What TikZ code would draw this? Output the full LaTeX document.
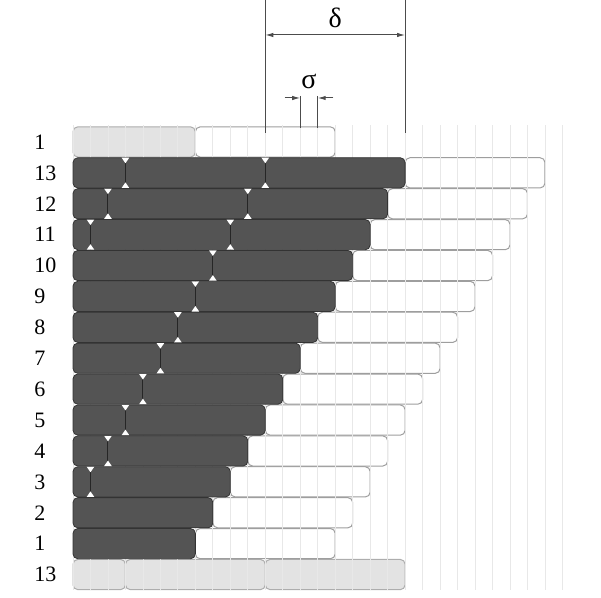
\documentclass[tikz,border=0pt]{standalone}
\usepackage{fontspec}
\setmainfont{Liberation Serif}
\usetikzlibrary{arrows.meta}
\begin{document}
\begin{tikzpicture}[x=0.5pt, y=0.5pt, line join=round]

	\pgfmathsetmacro{\s}{17.48}
	\pgfmathsetmacro{\p}{30.9}
	\pgfmathsetmacro{\h}{30.2}

	\tikzset{
	  apply style/.code = {\tikzset{#1}},
	  dark_bar/.style   = {fill=black!67, draw=black!80, line width=0.4pt, rounded corners=2.4pt},
	  white_bar/.style  = {fill=white, draw=black!38, line width=0.5pt, rounded corners=2.4pt},
	  light_bar/.style  = {fill=black!11, draw=black!32, line width=0.5pt, rounded corners=2.4pt},
	  grid_line/.style  = {draw=black!9, line width=0.4pt},
	  joint_line/.style = {draw=black!85, line width=0.5pt},
	  notch/.style      = {fill=white},
	  dim_line/.style   = {draw=black!70, line width=0.5pt},
	  dim_tips/.style   = {{Latex[length=4pt,width=2.2pt]}-{Latex[length=4pt,width=2.2pt]}},
	  row_label/.style  = {anchor=west, inner sep=0pt, font=\fontsize{11}{13}\selectfont}
	}

	\useasboundingbox (-73,-8) rectangle (528,590);

	% rows 1 (top) and 13 (bottom)
	\pgfmathsetmacro{\yt}{14*\p+0.35}
	\foreach \a/\b/\barstyle in {0/7/{light_bar}, 7/15/{white_bar}}{
		\draw[apply style/.expand once=\barstyle] (\a*\s,\yt) rectangle (\b*\s,\yt+\h);
	}
	\foreach \a/\b in {0/3, 3/11, 11/19}{
		\draw[light_bar] (\a*\s,0.35) rectangle (\b*\s,0.35+\h);
	}

	% white tails of rows 1..13
	\foreach \n in {1,...,13}{
		\pgfmathsetmacro{\y}{\n*\p+0.35}
		\pgfmathtruncatemacro{\R}{\n+6}
		\draw[white_bar] (\R*\s,\y) rectangle (\R*\s+8*\s,\y+\h);
	}

	\foreach \k in {0,...,28}{
		\draw[grid_line] (\k*\s,0) -- (\k*\s,465);
	}

	% dark rows with their joints
	\foreach \n in {1,...,13}{
		\pgfmathsetmacro{\y}{\n*\p+0.35}
		\pgfmathtruncatemacro{\R}{\n+6}
		\draw[dark_bar] (0,\y) rectangle (\R*\s,\y+\h);
		\foreach \j in {2,10}{
			\pgfmathtruncatemacro{\J}{\n-\j}
			\ifnum\J>0
				\draw[joint_line] (\J*\s,\y) -- (\J*\s,\y+\h);
				\fill[notch] (\J*\s,\y+\h-5.5) -- (\J*\s-3.8,\y+\h) -- (\J*\s+3.8,\y+\h) -- cycle;
				\fill[notch] (\J*\s,\y+5.5) -- (\J*\s-3.8,\y) -- (\J*\s+3.8,\y) -- cycle;
			\fi
		}
	}

	\foreach \r/\t in {14/1, 13/13, 12/12, 11/11, 10/10, 9/9, 8/8, 7/7, 6/6, 5/5, 4/4, 3/3, 2/2, 1/1, 0/13}{
		\node[row_label] (lab\r) at (-39,\r*\p+15.4) {\t};
	}

	% delta
	\coordinate (dLt) at (11*\s,590);
	\coordinate (dLb) at (11*\s,457);
	\coordinate (dRt) at (19*\s,590);
	\coordinate (dRb) at (19*\s,457);
	\coordinate (dA)  at (11*\s,555);
	\coordinate (dB)  at (19*\s,555);
	\draw[dim_line] (dLt) -- (dLb);
	\draw[dim_line] (dRt) -- (dRb);
	\draw[dim_line, dim_tips] (dA) -- (dB);
	\node[font=\fontsize{14}{16}\selectfont, inner sep=1pt] (delta) at (15*\s,572) {δ};

	% sigma
	\coordinate (sLt) at (13*\s,494);
	\coordinate (sLb) at (13*\s,462);
	\coordinate (sRt) at (14*\s,494);
	\coordinate (sRb) at (14*\s,462);
	\coordinate (sA)  at (12.1*\s,492);
	\coordinate (sB)  at (14.9*\s,492);
	\coordinate (sAe) at (13*\s,492);
	\coordinate (sBe) at (14*\s,492);
	\draw[dim_line] (sLt) -- (sLb);
	\draw[dim_line] (sRt) -- (sRb);
	\draw[dim_line, -{Latex[length=4pt,width=2.2pt]}] (sA) -- (sAe);
	\draw[dim_line, -{Latex[length=4pt,width=2.2pt]}] (sB) -- (sBe);
	\node[font=\fontsize{14}{16}\selectfont, inner sep=1pt] (sigma) at (13.5*\s,509) {σ};

\end{tikzpicture}
\end{document}
